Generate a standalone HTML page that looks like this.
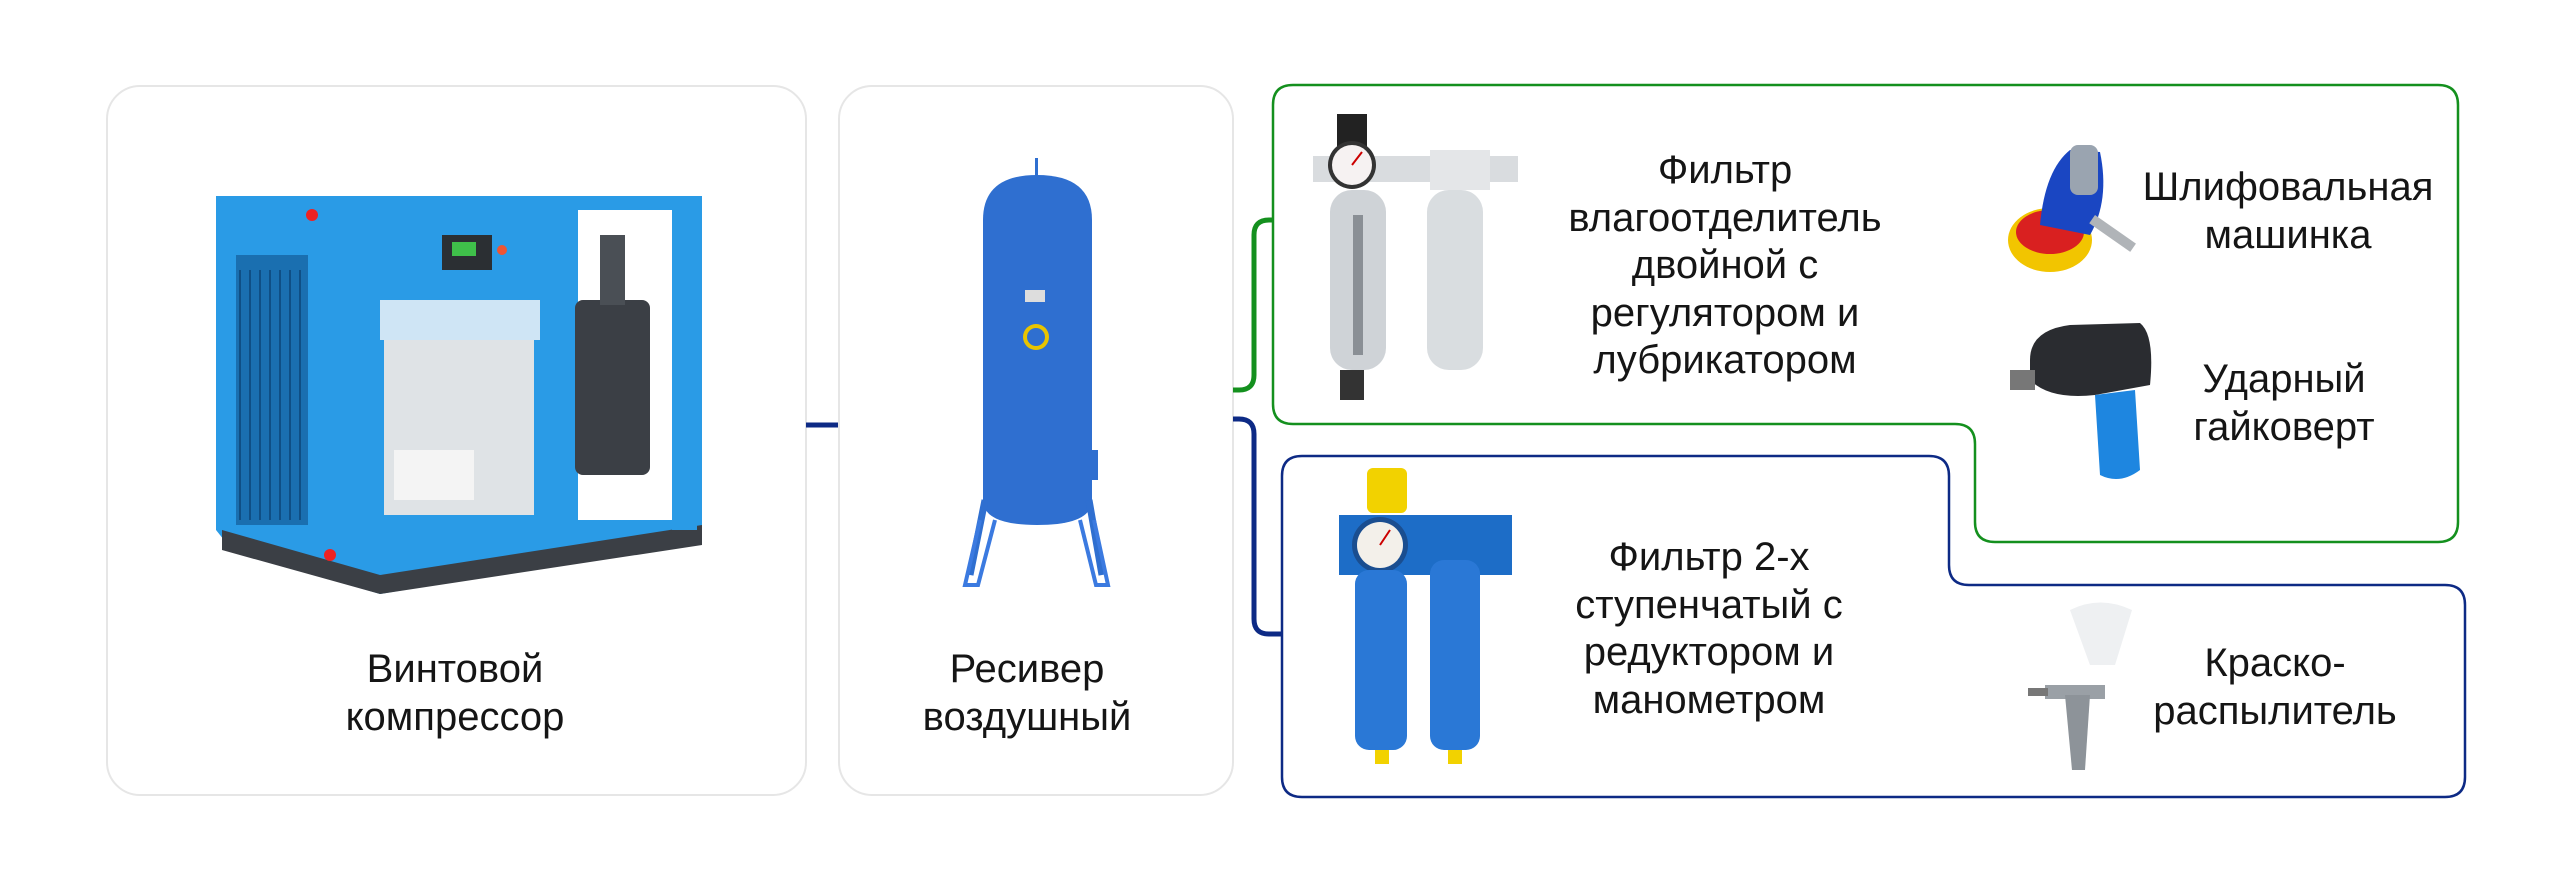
<!DOCTYPE html>
<html><head><meta charset="utf-8"><style>
html,body{margin:0;padding:0;background:#fff;}
body{width:2560px;height:874px;position:relative;overflow:hidden;font-family:"Liberation Sans","DejaVu Sans",sans-serif;}
.card{position:absolute;border:2px solid #e6e6e6;border-radius:34px;box-sizing:border-box;background:#fff;}
.t{position:absolute;text-align:center;font-size:40px;line-height:47.5px;color:#151515;transform:translateX(-50%);white-space:nowrap;}
svg{position:absolute;left:0;top:0;}
</style></head><body>
<div class="card" style="left:106px;top:85px;width:701px;height:711px"></div>
<div class="card" style="left:838px;top:85px;width:396px;height:711px"></div>
<svg width="2560" height="874" viewBox="0 0 2560 874">
<line x1="806" y1="425" x2="838" y2="425" stroke="#0d2a85" stroke-width="5"/>
<path d="M1233,390 H1239 Q1254,390 1254,375 V235 Q1254,220 1269,220 H1274" fill="none" stroke="#14901e" stroke-width="5"/>
<path d="M1233,419 H1239 Q1254,419 1254,434 V619 Q1254,634 1269,634 H1282" fill="none" stroke="#0d2a85" stroke-width="5"/>
<path d="M1293,85 H2438 Q2458,85 2458,105 V522 Q2458,542 2438,542 H1995 Q1975,542 1975,522 V444 Q1975,424 1955,424 H1293 Q1273,424 1273,404 V105 Q1273,85 1293,85 Z" fill="none" stroke="#14901e" stroke-width="2.5"/>
<path d="M1302,456 H1929 Q1949,456 1949,476 V565 Q1949,585 1969,585 H2445 Q2465,585 2465,605 V777 Q2465,797 2445,797 H1302 Q1282,797 1282,777 V476 Q1282,456 1302,456 Z" fill="none" stroke="#0d2a85" stroke-width="2.5"/>

<!-- compressor -->
<polygon points="216,196 702,196 702,540 380,594 232,550 216,530" fill="#2a9be6"/>
<polygon points="222,530 380,575 702,525 702,545 380,594 222,550" fill="#3b3f45"/>
<rect x="236" y="255" width="72" height="270" fill="#1a6fb0"/>
<g stroke="#0f4f85" stroke-width="2">
<line x1="240" y1="270" x2="240" y2="520"/><line x1="250" y1="270" x2="250" y2="520"/><line x1="260" y1="270" x2="260" y2="520"/><line x1="270" y1="270" x2="270" y2="520"/><line x1="280" y1="270" x2="280" y2="520"/><line x1="290" y1="270" x2="290" y2="520"/><line x1="300" y1="270" x2="300" y2="520"/>
</g>
<rect x="380" y="300" width="160" height="40" fill="#cfe5f5"/>
<rect x="384" y="340" width="150" height="175" fill="#dfe3e6"/>
<rect x="394" y="450" width="80" height="50" fill="#f4f4f4"/>
<rect x="442" y="235" width="50" height="35" fill="#2b2f33"/><rect x="452" y="242" width="24" height="14" fill="#3fc04a"/>
<circle cx="502" cy="250" r="5" fill="#e53"/>
<circle cx="312" cy="215" r="6" fill="#e22"/><circle cx="330" cy="555" r="6" fill="#e22"/>
<rect x="578" y="210" width="100" height="310" fill="#fff"/>
<rect x="575" y="300" width="75" height="175" rx="8" fill="#3b3f45"/>
<rect x="600" y="235" width="25" height="70" fill="#4a4f55"/>
<rect x="672" y="210" width="25" height="320" fill="#2a9be6"/>
<!-- receiver -->
<path d="M983,220 Q983,175 1037,175 Q1092,175 1092,220 V500 Q1092,525 1037,525 Q983,525 983,500 Z" fill="#2f6fd0"/>
<rect x="1035" y="158" width="3" height="18" fill="#2f6fd0"/>
<path d="M985,500 L970,575 M1089,500 L1102,575" stroke="#2f6fd0" stroke-width="7" fill="none"/>
<path d="M980,520 L965,585 L978,585 L995,520 M1094,520 L1108,585 L1096,585 L1080,520" stroke="#3b7ae0" stroke-width="4" fill="none"/>
<rect x="1025" y="290" width="20" height="12" fill="#ddd"/>
<circle cx="1036" cy="337" r="13" fill="#e8c400"/><circle cx="1036" cy="337" r="9" fill="#2f6fd0"/>
<rect x="1090" y="450" width="8" height="30" fill="#2f6fd0"/>
<!-- filter 1 -->
<rect x="1337" y="114" width="30" height="42" fill="#222"/>
<rect x="1313" y="156" width="205" height="26" fill="#d9dcdf"/>
<circle cx="1352" cy="165" r="24" fill="#333"/><circle cx="1352" cy="165" r="20" fill="#f6f2f2"/>
<line x1="1352" y1="165" x2="1362" y2="152" stroke="#c00" stroke-width="2"/>
<rect x="1330" y="190" width="56" height="180" rx="22" fill="#cfd3d7"/>
<rect x="1353" y="215" width="10" height="140" fill="#8a8f95"/>
<rect x="1427" y="190" width="56" height="180" rx="22" fill="#d9dde0"/>
<rect x="1430" y="150" width="60" height="40" fill="#e4e6e8"/>
<rect x="1340" y="370" width="24" height="30" fill="#333"/>
<!-- sander -->
<ellipse cx="2050" cy="240" rx="42" ry="32" fill="#f2c500"/><ellipse cx="2050" cy="232" rx="34" ry="22" fill="#d92020"/>
<path d="M2040,225 Q2045,170 2070,150 L2100,152 Q2110,200 2090,235 Z" fill="#1a46c2"/>
<rect x="2070" y="145" width="28" height="50" rx="8" fill="#9aa4b0"/>
<rect x="2095" y="215" width="50" height="10" fill="#b0b4b8" transform="rotate(35 2095 215)"/>
<!-- wrench -->
<path d="M2030,360 Q2030,330 2070,325 L2140,323 Q2155,335 2150,385 L2095,395 Q2050,400 2030,380 Z" fill="#2a2c30"/>
<rect x="2010" y="370" width="25" height="20" fill="#777"/>
<path d="M2095,395 L2135,390 L2140,470 Q2120,485 2100,475 Z" fill="#1e86e0"/>
<!-- filter 2 -->
<rect x="1367" y="468" width="40" height="45" rx="6" fill="#f2d200"/>
<rect x="1339" y="515" width="173" height="60" fill="#1d6dc7"/>
<circle cx="1380" cy="545" r="28" fill="#1a4e90"/><circle cx="1380" cy="545" r="23" fill="#f3f0ea"/>
<line x1="1380" y1="545" x2="1390" y2="530" stroke="#c00" stroke-width="2"/>
<rect x="1355" y="570" width="52" height="180" rx="14" fill="#2a78d6"/>
<rect x="1430" y="560" width="50" height="190" rx="14" fill="#2a78d6"/>
<rect x="1375" y="750" width="14" height="14" fill="#f2d200"/><rect x="1448" y="750" width="14" height="14" fill="#f2d200"/>
<!-- spray gun -->
<path d="M2070,610 Q2100,595 2132,610 L2115,665 L2090,665 Z" fill="#eef0f2"/>
<rect x="2045" y="685" width="60" height="14" fill="#9aa0a6"/>
<path d="M2065,695 L2072,770 L2085,770 L2090,695 Z" fill="#8d9399"/>
<rect x="2028" y="688" width="20" height="8" fill="#777"/>
</svg>

<div class="t" style="left:455px;top:646px">Винтовой<br>компрессор</div>
<div class="t" style="left:1027px;top:646px">Ресивер<br>воздушный</div>
<div class="t" style="left:1725px;top:147px">Фильтр<br>влагоотделитель<br>двойной с<br>регулятором и<br>лубрикатором</div>
<div class="t" style="left:2288px;top:164px">Шлифовальная<br>машинка</div>
<div class="t" style="left:2284px;top:356px">Ударный<br>гайковерт</div>
<div class="t" style="left:1709px;top:534px">Фильтр 2-х<br>ступенчатый с<br>редуктором и<br>манометром</div>
<div class="t" style="left:2275px;top:640px">Краско-<br>распылитель</div>
</body></html>
